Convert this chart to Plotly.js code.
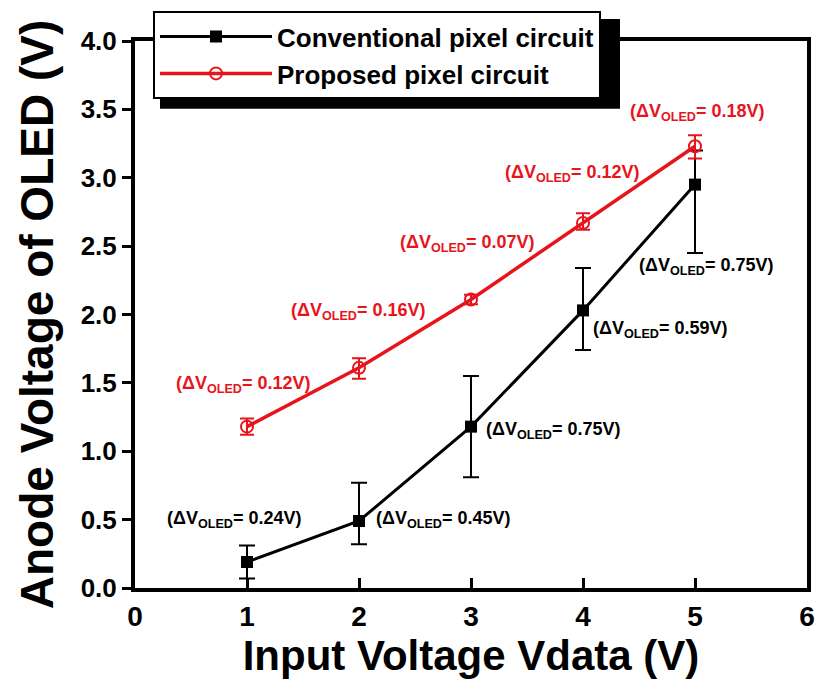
<!DOCTYPE html>
<html>
<head>
<meta charset="utf-8">
<script src="https://cdn.plot.ly/plotly-3.0.1.min.js"></script>
<style>html,body{margin:0;padding:0;background:#fff;}#chart{width:818px;height:687px;}</style>
</head>
<body>
<div id="chart"></div>
<script>
// Data
const vdata = [1, 2, 3, 4, 5];
const convY = [0.19, 0.49, 1.18, 2.03, 2.95];
const convErrPlus = [0.12, 0.28, 0.37, 0.31, 0.25];
const convErrMinus = [0.12, 0.17, 0.37, 0.29, 0.50];
const propY = [1.18, 1.61, 2.11, 2.67, 3.23];
const propErrPlus = [0.06, 0.07, 0.035, 0.07, 0.08];
const propErrMinus = [0.06, 0.08, 0.035, 0.05, 0.09];
const propLabels = ['0.12V', '0.16V', '0.07V', '0.12V', '0.18V'];
const convLabels = ['0.24V', '0.45V', '0.75V', '0.59V', '0.75V'];
// label anchor positions (data coords)
const propLabelX = [0.96, 1.99, 2.96, 3.90, 5.02];
const propLabelY = [1.49, 2.02, 2.52, 3.03, 3.48];
const convLabelX = [0.88, 2.75, 3.73, 4.69, 5.10];
const convLabelY = [0.50, 0.50, 1.15, 1.89, 2.35];

const RED = '#e8141c';
const FONT = 'Liberation Sans, Arial, sans-serif';

const traces = [
  {
    x: vdata, y: convY, type: 'scatter', mode: 'lines+markers',
    name: 'Conventional pixel circuit',
    line: {color: '#000', width: 3},
    marker: {symbol: 'square', size: 12, color: '#000'},
    error_y: {type: 'data', symmetric: false, array: convErrPlus, arrayminus: convErrMinus,
              color: '#000', thickness: 2, width: 8}
  },
  {
    x: vdata, y: propY, type: 'scatter', mode: 'lines+markers',
    name: 'Proposed pixel circuit',
    line: {color: RED, width: 3.5},
    marker: {symbol: 'circle-open', size: 12, color: RED, line: {width: 2, color: RED}},
    error_y: {type: 'data', symmetric: false, array: propErrPlus, arrayminus: propErrMinus,
              color: RED, thickness: 2, width: 7}
  }
];

const annotations = [];
propLabels.forEach((t, i) => annotations.push({
  x: propLabelX[i], y: propLabelY[i], xref: 'x', yref: 'y', showarrow: false,
  text: '(\u0394V<sub>OLED</sub>= ' + t + ')',
  font: {family: FONT, size: 18, color: RED, weight: 'bold'}
}));
convLabels.forEach((t, i) => annotations.push({
  x: convLabelX[i], y: convLabelY[i], xref: 'x', yref: 'y', showarrow: false,
  text: '(\u0394V<sub>OLED</sub>= ' + t + ')',
  font: {family: FONT, size: 18, color: '#000', weight: 'bold'}
}));

const layout = {
  width: 818, height: 687,
  margin: {l: 135, r: 11, t: 38, b: 99},
  paper_bgcolor: '#fff', plot_bgcolor: '#fff',
  font: {family: FONT, color: '#000'},
  showlegend: true,
  legend: {
    x: 0.0268, y: 1.0545, xanchor: 'left', yanchor: 'top',
    bgcolor: '#fff', bordercolor: '#000', borderwidth: 2,
    font: {family: FONT, size: 26, weight: 'bold', color: '#000'},
    itemwidth: 112, tracegroupgap: 0
  },
  xaxis: {
    range: [0, 6], dtick: 1, tick0: 0,
    showgrid: false, zeroline: false,
    showline: true, linewidth: 4, linecolor: '#000', mirror: true,
    ticks: 'inside', ticklen: 10, tickwidth: 3, tickcolor: '#000',
    tickfont: {family: FONT, size: 28, weight: 'bold'},
    title: {text: 'Input Voltage Vdata (V)', font: {family: FONT, size: 42, weight: 'bold'}, standoff: 8}
  },
  yaxis: {
    range: [0, 4], dtick: 0.5, tick0: 0, tickformat: '.1f',
    showgrid: false, zeroline: false,
    showline: true, linewidth: 4, linecolor: '#000', mirror: true,
    ticks: 'outside', ticklen: 9, tickwidth: 3, tickcolor: '#000',
    tickfont: {family: FONT, size: 26, weight: 'bold'},
    title: {text: 'Anode Voltage of OLED (V)', font: {family: FONT, size: 46, weight: 'bold'}, standoff: 14}
  },
  annotations: annotations,
  shapes: [
    {type: 'rect', xref: 'paper', yref: 'paper', layer: 'above',
     x0: 0.0372, x1: 0.7217, y0: 0.876, y1: 1.04,
     fillcolor: '#000', line: {width: 0}}
  ]
};

Plotly.newPlot('chart', traces, layout, {displayModeBar: false, staticPlot: true});
</script>
</body>
</html>
